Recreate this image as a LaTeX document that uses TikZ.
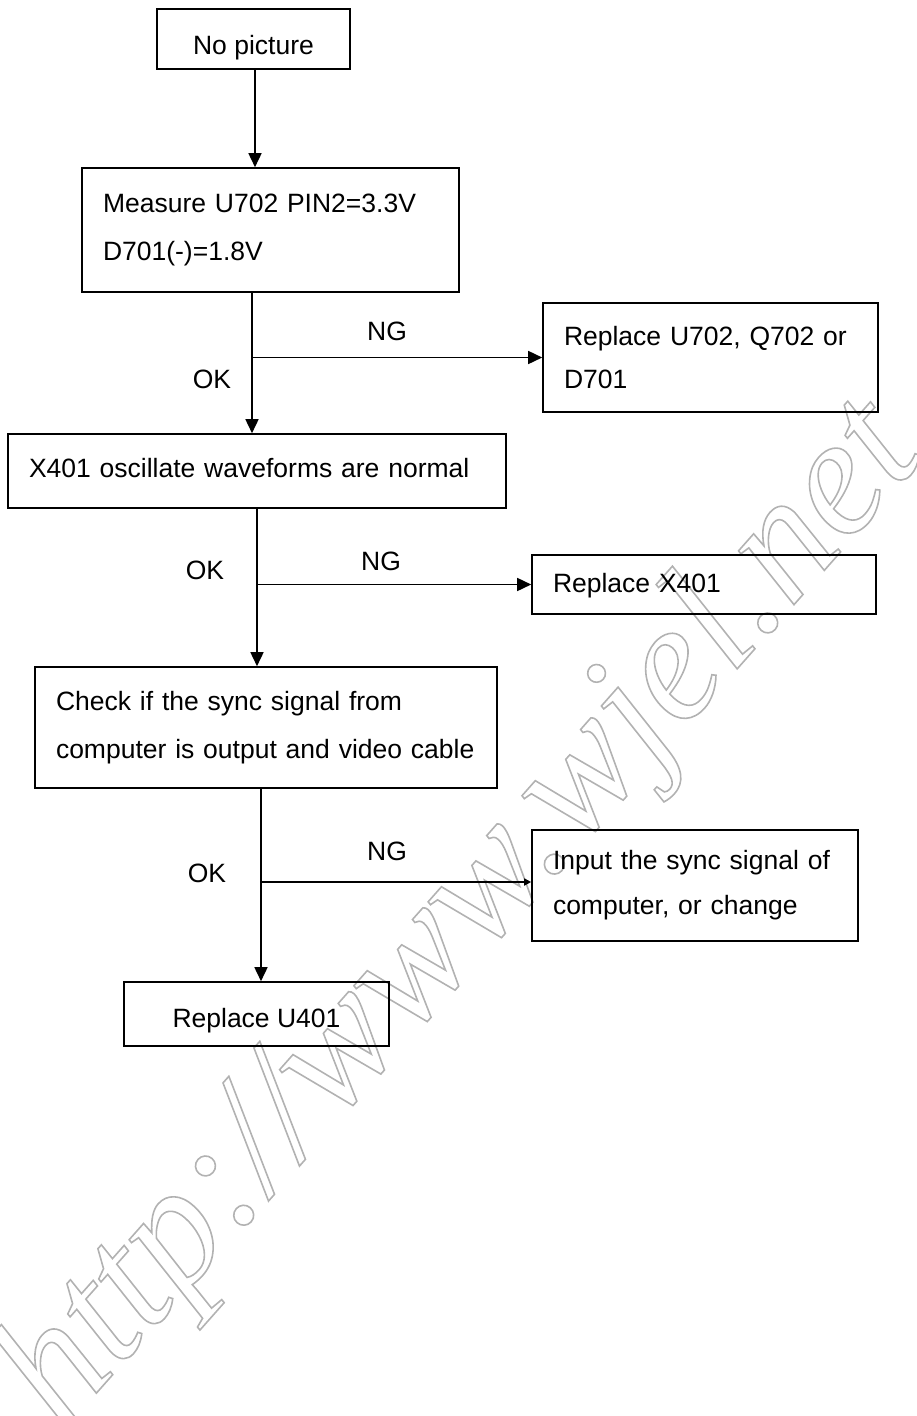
\documentclass[tikz,border=0pt]{standalone}
\usepackage{fontspec}
\setmainfont{Liberation Sans}
\newfontfamily\wmfont{Liberation Serif}
\usetikzlibrary{arrows.meta}
\newcommand{\outlinedtext}[1]{\special{pdf:literal direct 1 Tr 1.6 w}#1\special{pdf:literal direct 0 Tr}}
\begin{document}
\begin{tikzpicture}[x=1pt,y=-1pt,
  box/.style={draw, line width=1.6pt, inner xsep=21pt, inner ysep=0pt, font=\fontsize{26.5}{48}\selectfont},
  lbox/.style={box, align=left},
  cbox/.style={box, align=center},
  arr/.style={line width=1.6pt, -{Triangle[length=14pt,width=13pt]}},
  smallarr/.style={line width=1.6pt, -{Triangle[length=7pt,width=7pt]}},
  lbl/.style={font=\fontsize{26.5}{30}\selectfont, anchor=base, inner sep=0pt},
  wmark/.style={anchor=base west, rotate=48.5, inner sep=0pt, text=black!30,
    font=\wmfont\itshape\fontsize{168}{168}\selectfont}]
\useasboundingbox (0,0) rectangle (916,1416);

% watermark
\begin{scope}
\node[wmark] (wm) at (62,1432) {\outlinedtext{http://www.wjel.net}};
\end{scope}

% boxes
\node[cbox, minimum width=193pt, minimum height=60pt, text height=30pt, text depth=0pt] (b1) at (253.5,39) {No picture};
\node[lbox, text width=335pt, minimum height=124pt] (b2) at (270.5,230) {Measure U702 PIN2=3.3V\\D701(-)=1.8V};
\node[lbox, text width=293pt, minimum height=109pt, font=\fontsize{26.5}{43}\selectfont] (b4) at (710.5,357.5) {\makebox[293pt][s]{Replace U702, Q702 or}\\D701};
\node[lbox, text width=456pt, minimum height=74pt, text height=18pt, text depth=6pt] (b3) at (257,471) {X401 oscillate waveforms are normal};
\node[lbox, text width=302pt, minimum height=59pt, text height=19pt, text depth=4pt] (bx) at (704,584.5) {Replace X401};
\node[lbox, text width=420pt, minimum height=121pt] (b5) at (266,727.5) {Check if the sync signal from\\computer is output and video cable};
\node[lbox, text width=284pt, minimum height=111pt, font=\fontsize{26.5}{45}\selectfont] (b6) at (695,885.5) {Input the sync signal of\\computer, or change};
\node[cbox, minimum width=265pt, minimum height=64pt, text height=26pt, text depth=0pt] (b7) at (256.5,1014) {Replace U401};

% trunk positions
\coordinate (t1) at (255,0);
\coordinate (t2) at (252,0);
\coordinate (t3) at (257,0);
\coordinate (t4) at (261,0);
\coordinate (t5) at (0,882);

% connectors
\draw[arr] (b1.south -| t1) -- (b2.north -| t1);
\draw[arr] (b2.south -| t2) -- (b3.north -| t2);
\draw[arr] (b4.west -| t2) -- (b4.west);
\draw[arr] (b3.south -| t3) -- (b5.north -| t3);
\draw[arr] (bx.west -| t3) -- (bx.west);
\draw[arr] (b5.south -| t4) -- (b7.north -| t4);
\draw[smallarr] (t4 |- t5) -- (b6.west |- t5);

% labels
\node[lbl] (ng1) at (387,340) {NG};
\node[lbl] (ok1) at (212,388) {OK};
\node[lbl] (ng2) at (381,570) {NG};
\node[lbl] (ok2) at (205,579) {OK};
\node[lbl] (ng3) at (387,860) {NG};
\node[lbl] (ok3) at (207,882) {OK};
\end{tikzpicture}
\end{document}
